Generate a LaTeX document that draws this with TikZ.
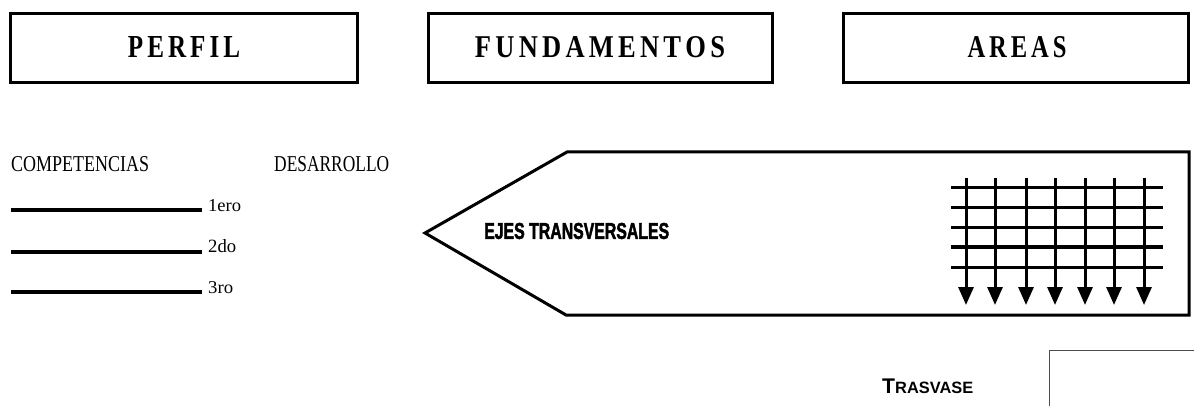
\documentclass[tikz,border=0pt]{standalone}
\usepackage{fontspec}
\usepackage{graphicx}
\setmainfont{Liberation Serif}
\newfontfamily\impactfont{Liberation Sans}[BoldFeatures={FakeBold=2.5}]
\newfontfamily\trasfont{Liberation Sans}
\usetikzlibrary{arrows.meta}
\newcommand{\lsp}{\kern0.16em}
\begin{document}
\begin{tikzpicture}[x=1pt,y=-1pt,
  headbox/.style={draw, line width=3pt, inner sep=0pt, minimum height=69pt},
  headtext/.style={inner sep=0pt, anchor=center},
  plaintext/.style={inner sep=0pt, anchor=base west},
  levelline/.style={line width=3.2pt},
  gridline/.style={line width=3pt},
  gridarrow/.style={line width=3pt, -{Triangle[width=15pt,length=18pt]}},
  shapeline/.style={line width=3pt, line join=miter}]
\useasboundingbox (0,0) rectangle (1194,406);

% header boxes
\node[headbox, minimum width=347pt] (perfil) at (184,48) {};
\node[headbox, minimum width=344pt] (fund) at (600.5,48) {};
\node[headbox, minimum width=345pt] (areas) at (1016,48) {};
\node[headtext] (tperfil) at (184,47) {\resizebox{112pt}{21pt}{\bfseries P\lsp E\lsp R\lsp F\lsp I\lsp L}};
\node[headtext] (tfund) at (600,47) {\resizebox{250pt}{21pt}{\bfseries F\lsp U\lsp N\lsp D\lsp A\lsp M\lsp E\lsp N\lsp T\lsp O\lsp S}};
\node[headtext] (tareas) at (1017,47) {\resizebox{99pt}{21pt}{\bfseries A\lsp R\lsp E\lsp A\lsp S}};

% left block
\node[plaintext] (comp) at (11,172) {\resizebox{138pt}{15pt}{COMPETENCIAS}};
\node[plaintext] (desa) at (274,172) {\resizebox{115pt}{15pt}{DESARROLLO}};
\coordinate (l1a) at (11,210); \coordinate (l1b) at (202,210);
\coordinate (l2a) at (11,252); \coordinate (l2b) at (202,252);
\coordinate (l3a) at (11,292); \coordinate (l3b) at (202,292);
\draw[levelline] (l1a) -- (l1b);
\draw[levelline] (l2a) -- (l2b);
\draw[levelline] (l3a) -- (l3b);
\node[plaintext] (n1) at (208,212) {\resizebox{33pt}{12pt}{1ero}};
\node[plaintext] (n2) at (208,253) {\resizebox{28pt}{13pt}{2do}};
\node[plaintext] (n3) at (208,293) {\resizebox{25pt}{12pt}{3ro}};

% arrow-shaped panel
\coordinate (tip) at (425,233);
\coordinate (tl) at (567,152);
\coordinate (tr) at (1189,152);
\coordinate (br) at (1189,315);
\coordinate (bl) at (566,315);
\draw[shapeline] (tip) -- (tl) -- (tr) -- (br) -- (bl) -- cycle;
\node[inner sep=0pt, anchor=west] (ejes) at (484,231) {\resizebox{185pt}{16pt}{\impactfont\bfseries EJES TRANSVERSALES}};

% grid
\foreach \yy in {188,208,228,247,267} \draw[gridline] (951,\yy) -- (1163,\yy);
\foreach \xx in {966,995,1026,1055,1085,1114,1144} \draw[gridarrow] (\xx,178) -- (\xx,305);

% trasvase
\node[plaintext] (tras) at (882,393) {\resizebox{91pt}{!}{\trasfont\bfseries\fontsize{22}{22}\selectfont T\fontsize{17}{17}\selectfont RASVASE}};
\coordinate (ta) at (1196,350);
\coordinate (tb) at (1049,350);
\coordinate (tc) at (1049,408);
\draw[line width=1pt, draw=black!70] (ta) -- (tb) -- (tc);
\end{tikzpicture}
\end{document}
